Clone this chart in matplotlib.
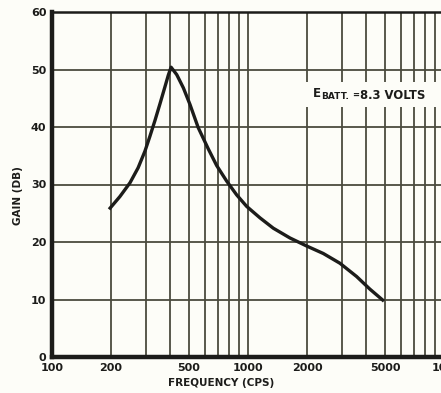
import matplotlib.pyplot as plt
from matplotlib.patches import Rectangle

# curve (cps, dB)
freq = [198, 222, 250, 275, 298, 316, 335, 356, 377, 392, 405,
        433, 468, 506, 557, 627, 692, 778, 875, 984, 1151, 1346,
        1637, 1993, 2422, 2946, 3581, 4188, 4867]
gain = [25.9, 27.9, 30.3, 32.9, 35.8, 38.4, 41.1, 44.1, 47.0, 49.0, 50.4,
        49.1, 46.8, 43.9, 39.9, 36.2, 33.3, 30.6, 28.2, 26.2, 24.2, 22.4,
        20.7, 19.3, 18.0, 16.3, 14.0, 11.8, 9.9]

xticks = [100, 200, 500, 1000, 2000, 5000, 10000]
xticklabels = ['100', '200', '500', '1000', '2000', '5000', '10K']
yticks = [0, 10, 20, 30, 40, 50, 60]

grid_x = [200, 300, 400, 500, 600, 700, 800, 900, 1000,
          2000, 3000, 4000, 5000, 6000, 7000, 8000, 9000]
grid_y = [10, 20, 30, 40, 50]

bg = '#fdfdf8'
gridc = '#4b4b3e'
ink = '#1c1c1a'

fig = plt.figure(figsize=(4.41, 3.93), dpi=100, facecolor=bg)
ax = fig.add_axes([52 / 441, 36 / 393, 392 / 441, 345 / 393])
ax.set_facecolor(bg)
ax.set_xscale('log')
ax.set_xlim(100, 10000)
ax.set_ylim(0, 60)

for g in grid_x:
    ax.axvline(g, color=gridc, lw=1.3, zorder=1)
for g in grid_y:
    ax.axhline(g, color=gridc, lw=1.3, zorder=1)

ax.plot(freq, gain, color=ink, lw=2.4, solid_joinstyle='round', zorder=3)

# blank patch behind the battery note
ax.add_patch(Rectangle((0.645, 0.725), 0.34, 0.072, transform=ax.transAxes,
                       facecolor=bg, edgecolor='none', zorder=2))
ax.text(0.666, 0.754, 'E', transform=ax.transAxes, fontsize=8.5, fontweight='bold',
        color=ink, ha='left', va='baseline', zorder=4)
ax.text(0.686, 0.748, 'BATT.', transform=ax.transAxes, fontsize=6.5, fontweight='bold',
        color=ink, ha='left', va='baseline', zorder=4)
ax.text(0.766, 0.752, '=', transform=ax.transAxes, fontsize=6, fontweight='bold',
        color=ink, ha='left', va='baseline', zorder=4)
ax.text(0.786, 0.748, '8.3 VOLTS', transform=ax.transAxes, fontsize=8.4, fontweight='bold',
        color=ink, ha='left', va='baseline', zorder=4)

ax.set_xticks(xticks)
ax.set_xticklabels(xticklabels)
ax.xaxis.set_minor_locator(plt.NullLocator())
ax.set_yticks(yticks)
ax.tick_params(length=0, labelsize=8, colors=ink, pad=4)
for lab in ax.get_xticklabels() + ax.get_yticklabels():
    lab.set_fontweight('bold')

ax.spines['left'].set_linewidth(3.2)
ax.spines['bottom'].set_linewidth(3.2)
ax.spines['top'].set_linewidth(1.8)
ax.spines['right'].set_visible(False)
for s in ax.spines.values():
    s.set_color(ink)

fig.text(221 / 441, 1 - 383 / 393, 'FREQUENCY (CPS)', fontsize=7.5, fontweight='bold',
         color=ink, ha='center', va='center')
fig.text(18 / 441, 1 - 196 / 393, 'GAIN (DB)', fontsize=7.5, fontweight='bold',
         color=ink, ha='center', va='center', rotation=90)

fig.savefig('out.png', dpi=100, facecolor=bg)
